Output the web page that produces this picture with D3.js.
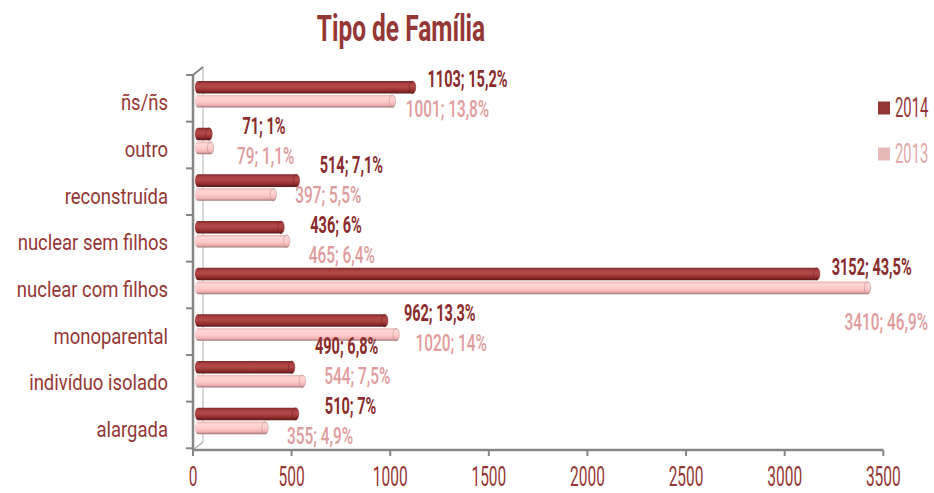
<!DOCTYPE html>
<html><head><meta charset="utf-8">
<script src="https://cdn.jsdelivr.net/npm/d3@7"></script>
<style>
html,body{margin:0;padding:0;background:#fff;}
svg text{font-family:Roboto,"Liberation Sans",sans-serif;}
</style></head>
<body>
<svg id="chart" width="934" height="493"></svg>
<script>
const categories = ["ñs/ñs","outro","reconstruída","nuclear sem filhos","nuclear com filhos","monoparental","indivíduo isolado","alargada"];
const series = ["2014","2013"];
const values2014 = [1103, 71, 514, 436, 3152, 962, 490, 510];
const values2013 = [1001, 79, 397, 465, 3410, 1020, 544, 355];
const pct2014 = [15.2, 1, 7.1, 6, 43.5, 13.3, 6.8, 7];
const pct2013 = [13.8, 1.1, 5.5, 6.4, 46.9, 14, 7.5, 4.9];
const xTicks = [0, 500, 1000, 1500, 2000, 2500, 3000, 3500];
const title = "Tipo de Família";

const svg = d3.select("#chart");
const W = 934;
const C = {dark:"#953735", lab14:"#8a2c2c", lab13:"#e09c9c", leg13:"#e6b9b8", axis:"#868686"};

// scales
const xAxisScale = d3.scaleLinear().domain([0, 3500]).range([193, 883.3]);
const xBar = d3.scaleLinear().domain([0, 3500]).range([197, 887.3]);
const y = d3.scaleBand().domain(categories).range([75, 448.3]).paddingInner(0);
const ySub = d3.scaleBand().domain(series).range([6, 32.5]).paddingInner(0.1);

// text helper: condensed rendering via scaling
function txt(g, x, yy, s, o) {
  return g.append("text")
    .attr("transform", `translate(${x},${yy}) scale(${o.sx||1},${o.sy||1})`)
    .attr("text-anchor", o.anchor || "start")
    .attr("font-size", o.size)
    .attr("font-weight", o.weight || 400)
    .attr("fill", o.fill)
    .text(s);
}

// gradients
const defs = svg.append("defs");
const g14 = defs.append("linearGradient").attr("id","g14").attr("x1",0).attr("y1",0).attr("x2",0).attr("y2",1);
[["0%","#7a2626"],["18%","#a83e3e"],["45%","#b34a4a"],["75%","#962f2f"],["100%","#5c1919"]]
  .forEach(s=>g14.append("stop").attr("offset",s[0]).attr("stop-color",s[1]));
const g13 = defs.append("linearGradient").attr("id","g13").attr("x1",0).attr("y1",0).attr("x2",0).attr("y2",1);
[["0%","#e7b3b3"],["20%","#ffd6d6"],["55%","#ffcaca"],["82%","#eeb0b0"],["100%","#9c7474"]]
  .forEach(s=>g13.append("stop").attr("offset",s[0]).attr("stop-color",s[1]));

// title
txt(svg, 401, 41, title, {size:36, weight:700, sx:0.68, sy:1.05, anchor:"middle", fill:C.dark});

// 3D wall lines
const wall = svg.append("g");
wall.append("line").attr("x1",203).attr("y1",67).attr("x2",203).attr("y2",442).attr("stroke","#c8c8c8").attr("stroke-width",1.5);
wall.append("line").attr("x1",193).attr("y1",75).attr("x2",203).attr("y2",67).attr("stroke",C.axis).attr("stroke-width",2);
wall.append("line").attr("x1",193).attr("y1",450).attr("x2",203).attr("y2",442).attr("stroke","#b0b0b0").attr("stroke-width",1.5);

// axes
const ax = svg.append("g");
ax.append("line").attr("x1",193).attr("y1",75).attr("x2",193).attr("y2",450).attr("stroke",C.axis).attr("stroke-width",2.5);
ax.append("line").attr("x1",193).attr("y1",450).attr("x2",883.3).attr("y2",450).attr("stroke",C.axis).attr("stroke-width",2.5);
const bounds = categories.map(c=>y(c)).concat([y.range()[1]]);
ax.selectAll(".yt").data(bounds).join("line")
  .attr("x1",186).attr("x2",193).attr("y1",d=>d).attr("y2",d=>d).attr("stroke",C.axis).attr("stroke-width",2);
ax.selectAll(".xt").data(xTicks).join("line")
  .attr("x1",d=>xAxisScale(d)).attr("x2",d=>xAxisScale(d)).attr("y1",450).attr("y2",456).attr("stroke",C.axis).attr("stroke-width",2);
xTicks.forEach(t=>txt(ax, xAxisScale(t), 485.5, String(t), {size:25, sx:0.62, sy:1.1, anchor:"middle", fill:C.dark}));
categories.forEach(c=>txt(ax, 168, y(c)+y.bandwidth()/2+12, c, {size:21, sx:0.88, sy:1.08, anchor:"end", fill:C.dark}));

// bars
const rows = categories.map((c,i)=>({c, v:[values2014[i], values2013[i]], p:[pct2014[i], pct2013[i]]}));
const bars = svg.append("g");
rows.forEach(r=>{
  series.forEach((s,k)=>{
    const top = y(r.c)+ySub(s), h = ySub.bandwidth();
    const x0 = 195, x1 = xBar(r.v[k]);
    const fillId = k===0 ? "url(#g14)" : "url(#g13)";
    bars.append("rect").attr("x",x0).attr("y",top).attr("width",Math.max(1,x1-x0)).attr("height",h)
      .attr("rx",3).attr("ry",h/2).attr("fill",fillId);
    bars.append("ellipse").attr("cx",x1-2).attr("cy",top+h/2).attr("rx",3.2).attr("ry",h/2)
      .attr("fill",fillId).attr("stroke",k===0?"#6a2020":"#b08a8a").attr("stroke-width",0.8).attr("stroke-opacity",0.6);
  });
});

// data labels (placed above 2014 bar end / below 2013 bar end, then de-collided)
const fmt = v => String(v).replace(".", ",");
const labs = svg.append("g");
const L = [];
const LS = 22, LSY = 1.05;
rows.forEach(r=>{
  series.forEach((s,k)=>{
    const cy = y(r.c)+ySub(s)+ySub.bandwidth()/2;
    const sx = k===0 ? 0.66 : 0.7;
    const str = `${r.v[k]}; ${fmt(r.p[k])}%`;
    const t = txt(labs, 0, 0, str, {size:LS, weight:k===0?700:500, sx, sy:LSY, anchor:"middle", fill:k===0?C.lab14:C.lab13});
    const half = t.node().getBBox().width*sx/2;
    let cx = xBar(r.v[k]) + 53;
    let my = k===0 ? cy-7 : cy+7;
    if (cx+half > W-6) { cx = W-6-half; my += 27; }
    L.push({t, cx, my, half, sx});
  });
});
// separate vertically neighbouring labels that overlap horizontally
const minGap = LS*1.3*LSY;
const hOver = (a,b) => Math.abs(a.cx-b.cx) < a.half+b.half+4;
for (let pass=0; pass<3; pass++){
  for (let i=1;i<L.length;i++){
    const a=L[i-1], b=L[i];
    const need = minGap - (b.my-a.my);
    if (hOver(a,b) && need>0){ a.my -= need/2; b.my += need/2; }
  }
}
// keep the last label clear of the x axis, pushing earlier ones up if needed
const maxY = y.range()[1] - 12;
if (L[L.length-1].my > maxY) L[L.length-1].my = maxY;
for (let i=L.length-1;i>0;i--){
  const a=L[i-1], b=L[i];
  if (hOver(a,b) && b.my-a.my < minGap) a.my = b.my-minGap;
}
L.forEach(l=>l.t.attr("transform", `translate(${l.cx},${l.my+8}) scale(${l.sx},${LSY})`));

// legend
const leg = svg.append("g");
[["2014",C.dark,C.dark,108],["2013",C.leg13,"#e3a9a9",154]].forEach(d=>{
  leg.append("rect").attr("x",878).attr("y",d[3]-6.5).attr("width",12).attr("height",13).attr("fill",d[1]);
  txt(leg, 895, d[3]+9, d[0], {size:27, sx:0.55, sy:1.05, fill:d[2]});
});
</script>
</body></html>
